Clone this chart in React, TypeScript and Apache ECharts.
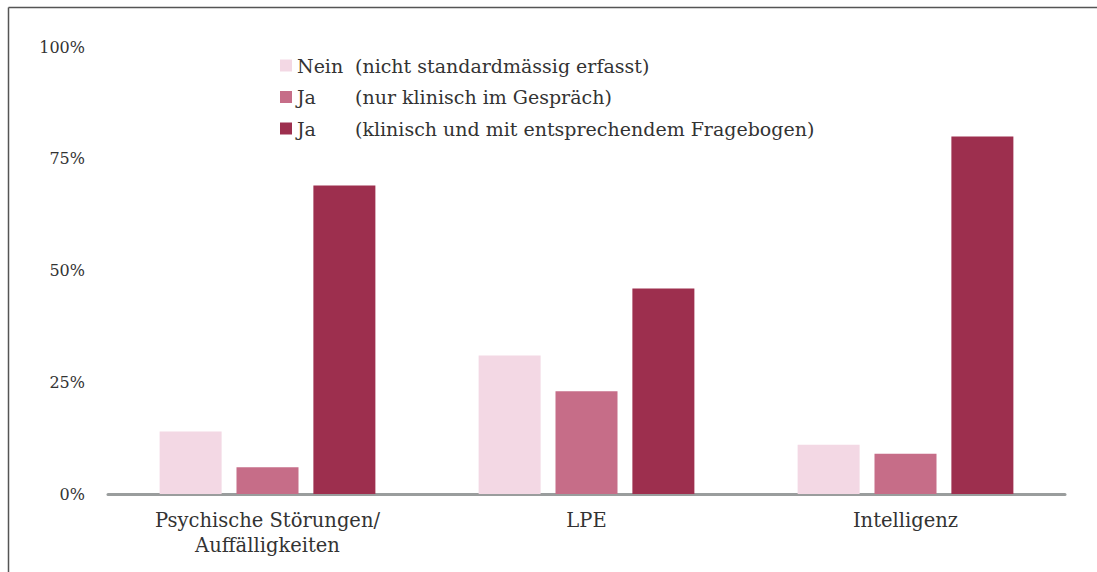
import React, { useEffect, useRef } from "react";
import * as echarts from "echarts";

const categories = ["Psychische Störungen/\nAuffälligkeiten", "LPE", "Intelligenz"];
const seriesKeys = ["Nein", "Ja", "Ja"];
const seriesNotes = [
  "(nicht standardmässig erfasst)",
  "(nur klinisch im Gespräch)",
  "(klinisch und mit entsprechendem Fragebogen)",
];
const neinValues = [14, 31, 11];
const jaGespraechValues = [6, 23, 9];
const jaFragebogenValues = [69, 46, 80];
const yTicks = [0, 25, 50, 75, 100];
const colors = ["#f3d8e4", "#c66d88", "#9d2f4e"];

const FONT = "DejaVu Serif";

export default function App() {
  const ref = useRef<HTMLDivElement>(null);
  useEffect(() => {
    document.body.style.margin = "0";
    const chart = echarts.init(ref.current!, null, { renderer: "svg" });
    const values = [neinValues, jaGespraechValues, jaFragebogenValues];
    const names = seriesKeys.map((k, i) => `${k}|${seriesNotes[i]}`);
    chart.setOption({
      animation: false,
      backgroundColor: "#ffffff",
      textStyle: { fontFamily: FONT },
      graphic: [
        {
          type: "line",
          shape: { x1: 8.5, y1: 7.5, x2: 8.5, y2: 572 },
          style: { stroke: "#555", lineWidth: 1.5 },
          silent: true,
        },
        {
          type: "line",
          shape: { x1: 8.5, y1: 7.5, x2: 1097, y2: 7.5 },
          style: { stroke: "#555", lineWidth: 1.5 },
          silent: true,
        },
      ],
      legend: {
        orient: "vertical",
        left: 275,
        top: 51,
        itemWidth: 12,
        itemHeight: 12,
        itemGap: 12.5,
        itemTextGap: 10,
        icon: "rect",
        data: names,
        formatter: (n: string) => {
          const [a, b] = n.split("|");
          return `{a|${a}}{b|${b}}`;
        },
        textStyle: {
          fontFamily: FONT,
          color: "#333",
          rich: {
            a: { width: 58, fontSize: 19, fontFamily: FONT, color: "#333", lineHeight: 22 },
            b: { fontSize: 19, fontFamily: FONT, color: "#333", lineHeight: 22 },
          },
        },
      },
      grid: { left: 108, right: 32, top: 47, bottom: 78, containLabel: false },
      xAxis: {
        type: "category",
        data: categories,
        axisLine: { lineStyle: { color: "#9a9d9d", width: 3 } },
        axisTick: { show: false },
        axisLabel: {
          color: "#333",
          fontFamily: FONT,
          fontSize: 19.5,
          lineHeight: 25,
          margin: 14,
        },
      },
      yAxis: {
        type: "value",
        min: yTicks[0],
        max: yTicks[yTicks.length - 1],
        interval: 25,
        splitLine: { show: false },
        axisLine: { show: false },
        axisTick: { show: false },
        axisLabel: {
          color: "#333",
          fontFamily: FONT,
          fontSize: 16,
          margin: 23,
          formatter: "{value}%",
        },
      },
      series: values.map((v, i) => ({
        name: names[i],
        type: "bar",
        data: v,
        barWidth: 62,
        barGap: "24%",
        itemStyle: { color: colors[i] },
      })),
    });
    return () => chart.dispose();
  }, []);
  return <div ref={ref} style={{ width: 1097, height: 572 }} />;
}
